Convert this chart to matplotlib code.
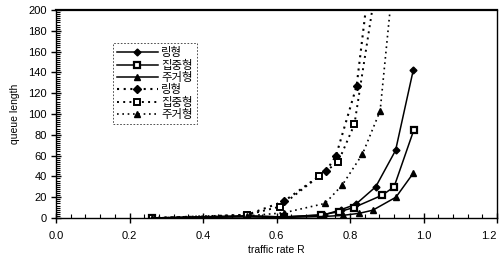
import matplotlib
matplotlib.use("Agg")
import matplotlib.pyplot as plt
from matplotlib.ticker import MultipleLocator, FixedLocator

plt.rcParams['font.family'] = ['Liberation Sans', 'Noto Sans CJK KR', 'DejaVu Sans']

labels = ['링형', '집중형', '주거형', '링형', '집중형', '주거형']

ring_x = [0.26, 0.52, 0.62, 0.73, 0.775, 0.815, 0.87, 0.924, 0.972]
ring_y = [0, 2, 1, 3, 8, 13, 30, 65, 142]
conc_x = [0.26, 0.52, 0.62, 0.72, 0.77, 0.81, 0.888, 0.92, 0.974]
conc_y = [0, 2, 1, 3, 6, 10, 22, 30, 85]
resi_x = [0.26, 0.52, 0.62, 0.73, 0.78, 0.825, 0.862, 0.925, 0.972]
resi_y = [0, 1, 0.5, 1.5, 2.5, 4.5, 7.5, 20, 43]

ring2_x = [0.26, 0.52, 0.62, 0.735, 0.762, 0.818, 0.87]
ring2_y = [0, 3, 16, 45, 60, 127, 280]
conc2_x = [0.26, 0.52, 0.61, 0.715, 0.768, 0.812, 0.90]
conc2_y = [0, 3, 11, 40, 54, 90, 290]
resi2_x = [0.26, 0.52, 0.62, 0.732, 0.779, 0.834, 0.882, 0.93]
resi2_y = [0, 2, 5, 14, 31.7, 61.5, 103, 275]

xticks = [0.0, 0.2, 0.4, 0.6, 0.8, 1.0, 1.2]
xticklabels = ['0.0', '0.2', '0.4', '0.6', '0.8', '1.0', '1.2']
yticks = list(range(0, 201, 20))

fig = plt.figure(figsize=(5.01, 2.62), dpi=100)
ax = fig.add_axes([56/501, 44/262, 441/501, 208/262])

k = 'black'
ax.plot(ring_x, ring_y, '-', color=k, lw=1.1, marker='D', ms=3.5, mfc=k, mec=k, label=labels[0])
ax.plot(conc_x, conc_y, '-', color=k, lw=1.1, marker='s', ms=4.5, mfc='white', mec=k, mew=1.6, label=labels[1])
ax.plot(resi_x, resi_y, '-', color=k, lw=1.1, marker='^', ms=4.5, mfc=k, mec=k, label=labels[2])
ax.plot(ring2_x, ring2_y, color=k, lw=1.5, ls=(0, (1, 2.2)), marker='D', ms=3.8, mfc=k, mec=k, label=labels[3])
ax.plot(conc2_x, conc2_y, color=k, lw=1.4, ls=(0, (1, 2.2)), marker='s', ms=5, mfc='white', mec=k, mew=1.4, label=labels[4])
ax.plot(resi2_x, resi2_y, color=k, lw=1.2, ls=(0, (1, 2.2)), marker='^', ms=4.5, mfc=k, mec=k, label=labels[5])

ax.set_xlim(0, 1.2)
ax.set_ylim(0, 200)
ax.xaxis.set_major_locator(FixedLocator(xticks))
ax.set_xticklabels(xticklabels)
ax.xaxis.set_minor_locator(MultipleLocator(0.04))
ax.yaxis.set_major_locator(FixedLocator(yticks))
ax.yaxis.set_minor_locator(MultipleLocator(2))
ax.tick_params(which='major', direction='inout', length=7, width=1.0, labelsize=8, pad=3)
ax.tick_params(which='minor', direction='in', length=3, width=0.8)
ax.tick_params(axis='x', which='major', pad=6)
xl = ax.get_xticklabels()
xl[-1].set_horizontalalignment('right')

for s in ax.spines.values():
    s.set_linewidth(1.0)
ax.spines['top'].set_linewidth(1.6)

ax.set_xlabel('traffic rate R', fontsize=7.5, labelpad=3)
ax.set_ylabel('queue length', fontsize=7.5, labelpad=6)

leg = ax.legend(loc='upper left', bbox_to_anchor=(57/441, (218-43)/208),
                frameon=True, fancybox=False, handlelength=3.6, handletextpad=0.3,
                labelspacing=0.12, borderpad=0.35, borderaxespad=0,
                prop={'family': ['Noto Sans CJK KR', 'DejaVu Sans'], 'size': 8.2})
leg.get_frame().set_edgecolor('black')
leg.get_frame().set_linewidth(0.6)
leg.get_frame().set_linestyle((0, (2, 2)))

fig.savefig('out.png', dpi=100)
